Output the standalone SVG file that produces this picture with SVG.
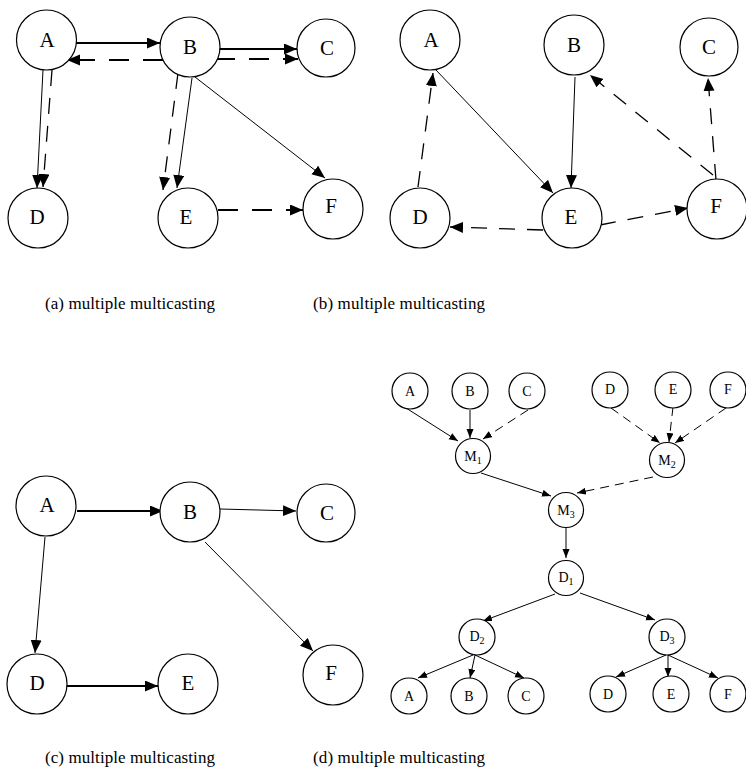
<svg xmlns="http://www.w3.org/2000/svg" width="746" height="779" viewBox="0 0 746 779">
  <style>
    .node { fill: #fff; stroke: #000; stroke-width: 1.2; }
    text { font-family: "Liberation Serif", "Times New Roman", Times, serif; fill: #000; }
    .lbl { font-size: 21px; text-anchor: middle; }
    .lbs { font-size: 14px; text-anchor: middle; }
    .sub { font-size: 10px; }
    .cap { font-size: 17px; }
    .thick { stroke: #000; stroke-width: 2.2; fill: none; marker-end: url(#ah); }
    .thin { stroke: #000; stroke-width: 1; fill: none; marker-end: url(#ah); }
    .dashT { stroke: #000; stroke-width: 2; fill: none; stroke-dasharray: 20 14; marker-end: url(#ah); }
    .dash { stroke: #000; stroke-width: 1.3; fill: none; stroke-dasharray: 16 12; marker-end: url(#ah); }
    .sm { stroke: #000; stroke-width: 1; fill: none; marker-end: url(#ahs); }
    .smd { stroke: #000; stroke-width: 1; fill: none; stroke-dasharray: 9 6; marker-end: url(#ahs); }
  </style>
  <defs>
    <marker id="ah" markerUnits="userSpaceOnUse" markerWidth="14" markerHeight="12" refX="13" refY="5.5" orient="auto">
      <path d="M0,0 L13,5.5 L0,11 Z" fill="#000"/>
    </marker>
    <marker id="ahs" markerUnits="userSpaceOnUse" markerWidth="10" markerHeight="8" refX="9" refY="3.5" orient="auto">
      <path d="M0,0 L9,3.5 L0,7 Z" fill="#000"/>
    </marker>
  </defs>
  <rect width="746" height="779" fill="#fff"/>

  <!-- (a) -->
  <g id="connectors-a">
    <line class="thick" x1="75" y1="43" x2="160" y2="43"/>
    <line class="thick" x1="218" y1="49" x2="297" y2="49"/>
    <line class="dashT" x1="163" y1="60" x2="67" y2="60"/>
    <line class="dashT" x1="215" y1="59" x2="298" y2="59"/>
    <line class="dashT" x1="218" y1="210" x2="303" y2="210"/>
    <line class="thin" x1="43" y1="70" x2="37" y2="188"/>
    <line class="thin" x1="192" y1="78" x2="177" y2="188"/>
    <line class="thin" x1="195" y1="77" x2="325" y2="178"/>
    <line class="dash" x1="52" y1="70" x2="43" y2="187"/>
    <line class="dash" x1="178" y1="73" x2="163" y2="190"/>
  </g>
  <g id="a-A"><circle class="node" cx="46.5" cy="40" r="30"/><text class="lbl" x="47" y="47">A</text></g>
  <g id="a-B"><circle class="node" cx="190" cy="47" r="30"/><text class="lbl" x="190" y="54">B</text></g>
  <g id="a-C"><circle class="node" cx="326" cy="48" r="29"/><text class="lbl" x="327" y="55">C</text></g>
  <g id="a-D"><circle class="node" cx="38" cy="218" r="30"/><text class="lbl" x="37" y="224">D</text></g>
  <g id="a-E"><circle class="node" cx="188" cy="218" r="30"/><text class="lbl" x="186" y="224">E</text></g>
  <g id="a-F"><circle class="node" cx="333" cy="209" r="30"/><text class="lbl" x="331" y="213">F</text></g>
  <text class="cap" x="45" y="309" textLength="170">(a) multiple multicasting</text>

  <!-- (b) -->
  <g id="connectors-b">
    <line class="thin" x1="436" y1="70" x2="553" y2="193"/>
    <line class="thin" x1="575" y1="77" x2="571" y2="188"/>
    <line class="dash" x1="418" y1="187" x2="433" y2="73"/>
    <line class="dash" x1="713" y1="175" x2="590" y2="75"/>
    <line class="dash" x1="716" y1="180" x2="708" y2="78"/>
    <line class="dash" x1="543" y1="230" x2="450" y2="227"/>
    <line class="dash" x1="600" y1="225" x2="688" y2="208"/>
  </g>
  <g id="b-A"><circle class="node" cx="430" cy="40" r="30"/><text class="lbl" x="431" y="47">A</text></g>
  <g id="b-B"><circle class="node" cx="574" cy="45" r="30"/><text class="lbl" x="574" y="52">B</text></g>
  <g id="b-C"><circle class="node" cx="709" cy="47" r="29"/><text class="lbl" x="709" y="54">C</text></g>
  <g id="b-D"><circle class="node" cx="420" cy="218" r="30"/><text class="lbl" x="420" y="224">D</text></g>
  <g id="b-E"><circle class="node" cx="572" cy="218" r="30"/><text class="lbl" x="571" y="224">E</text></g>
  <g id="b-F"><circle class="node" cx="717" cy="209" r="30"/><text class="lbl" x="716" y="213">F</text></g>
  <text class="cap" x="313" y="309" textLength="172">(b) multiple multicasting</text>

  <!-- (c) -->
  <g id="connectors-c">
    <line class="thick" x1="77" y1="511" x2="163" y2="511"/>
    <line class="thick" x1="65" y1="686" x2="158" y2="686"/>
    <line class="thin" x1="220" y1="509" x2="296" y2="511"/>
    <line class="thin" x1="205" y1="542" x2="313" y2="651"/>
    <line class="thin" x1="45" y1="537" x2="35" y2="653"/>
  </g>
  <g id="c-A"><circle class="node" cx="46" cy="506" r="30"/><text class="lbl" x="47" y="512">A</text></g>
  <g id="c-B"><circle class="node" cx="190" cy="512" r="30"/><text class="lbl" x="190" y="519">B</text></g>
  <g id="c-C"><circle class="node" cx="326" cy="513" r="29"/><text class="lbl" x="327" y="520">C</text></g>
  <g id="c-D"><circle class="node" cx="37" cy="684" r="30"/><text class="lbl" x="37" y="690">D</text></g>
  <g id="c-E"><circle class="node" cx="188" cy="684" r="30"/><text class="lbl" x="188" y="690">E</text></g>
  <g id="c-F"><circle class="node" cx="333" cy="675" r="30"/><text class="lbl" x="331" y="680">F</text></g>
  <text class="cap" x="45" y="763" textLength="170">(c) multiple multicasting</text>

  <!-- (d) -->
  <g id="connectors-d">
    <line class="sm" x1="406" y1="408" x2="458" y2="441"/>
    <line class="sm" x1="470" y1="410" x2="470" y2="438"/>
    <line class="smd" x1="528" y1="410" x2="483" y2="439"/>
    <line class="smd" x1="611" y1="408" x2="660" y2="443"/>
    <line class="smd" x1="673" y1="407" x2="669" y2="442"/>
    <line class="smd" x1="726" y1="408" x2="675" y2="443"/>
    <line class="sm" x1="481" y1="473" x2="551" y2="496"/>
    <line class="smd" x1="653" y1="477" x2="577" y2="493"/>
    <line class="sm" x1="566" y1="527" x2="566" y2="558"/>
    <line class="sm" x1="555" y1="594" x2="483" y2="621"/>
    <line class="sm" x1="580" y1="593" x2="655" y2="620"/>
    <line class="sm" x1="473" y1="655" x2="418" y2="678"/>
    <line class="sm" x1="475" y1="655" x2="470" y2="678"/>
    <line class="sm" x1="475" y1="655" x2="524" y2="678"/>
    <line class="sm" x1="666" y1="655" x2="616" y2="677"/>
    <line class="sm" x1="668" y1="655" x2="668" y2="677"/>
    <line class="sm" x1="668" y1="655" x2="718" y2="678"/>
  </g>
  <g id="d-A1"><circle class="node" cx="410" cy="391" r="18"/><text class="lbs" x="410" y="396">A</text></g>
  <g id="d-B1"><circle class="node" cx="470" cy="391" r="18"/><text class="lbs" x="470" y="396">B</text></g>
  <g id="d-C1"><circle class="node" cx="527" cy="391" r="18"/><text class="lbs" x="527" y="396">C</text></g>
  <g id="d-D1"><circle class="node" cx="610" cy="390" r="18"/><text class="lbs" x="610" y="394">D</text></g>
  <g id="d-E1"><circle class="node" cx="673" cy="390" r="18"/><text class="lbs" x="673" y="394">E</text></g>
  <g id="d-F1"><circle class="node" cx="728" cy="390" r="18"/><text class="lbs" x="728" y="394">F</text></g>
  <g id="d-M1"><circle class="node" cx="473" cy="456" r="17.5"/><text class="lbs" x="473" y="461">M<tspan class="sub" dy="3">1</tspan></text></g>
  <g id="d-M2"><circle class="node" cx="667" cy="460" r="17.5"/><text class="lbs" x="667" y="465">M<tspan class="sub" dy="3">2</tspan></text></g>
  <g id="d-M3"><circle class="node" cx="566" cy="510" r="17.5"/><text class="lbs" x="566" y="515">M<tspan class="sub" dy="3">3</tspan></text></g>
  <g id="d-Dn1"><circle class="node" cx="566" cy="578" r="17.5"/><text class="lbs" x="566" y="582">D<tspan class="sub" dy="3">1</tspan></text></g>
  <g id="d-Dn2"><circle class="node" cx="477" cy="637" r="18"/><text class="lbs" x="477" y="641">D<tspan class="sub" dy="3">2</tspan></text></g>
  <g id="d-Dn3"><circle class="node" cx="667" cy="637" r="18"/><text class="lbs" x="667" y="641">D<tspan class="sub" dy="3">3</tspan></text></g>
  <g id="d-A2"><circle class="node" cx="409" cy="696" r="18"/><text class="lbs" x="409" y="701">A</text></g>
  <g id="d-B2"><circle class="node" cx="469" cy="696" r="18"/><text class="lbs" x="469" y="701">B</text></g>
  <g id="d-C2"><circle class="node" cx="526" cy="696" r="18"/><text class="lbs" x="526" y="701">C</text></g>
  <g id="d-D2"><circle class="node" cx="608" cy="694" r="18"/><text class="lbs" x="608" y="699">D</text></g>
  <g id="d-E2"><circle class="node" cx="671" cy="694" r="18"/><text class="lbs" x="671" y="699">E</text></g>
  <g id="d-F2"><circle class="node" cx="728" cy="694" r="18"/><text class="lbs" x="728" y="699">F</text></g>
  <text class="cap" x="313" y="763" textLength="172">(d) multiple multicasting</text>
</svg>
